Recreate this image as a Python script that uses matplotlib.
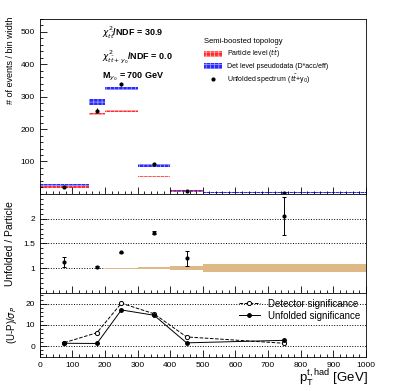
import matplotlib.pyplot as plt
import numpy as np
from matplotlib.patches import Patch
from matplotlib.lines import Line2D
from matplotlib.ticker import MultipleLocator

plt.rcParams['font.family'] = ['Liberation Sans', 'DejaVu Sans']
plt.rcParams['hatch.linewidth'] = 0.6

# binning (GeV)
edges = np.array([0, 150, 200, 300, 400, 500, 1000])
centers = np.array([75, 175, 250, 350, 450, 750])

# top panel: events / bin width
particle = np.array([20, 247, 256, 53, 7, 3])
particle_err = np.array([3, 3, 3, 2, 2, 1])
detector = np.array([27, 283, 325, 87, 10, 4])
detector_err = np.array([5, 9, 6, 4, 3, 2])
unfolded = np.array([21, 256, 338, 91, 10, 4])
unfolded_err = np.array([3, 8, 5, 3, 2, 1])

# middle panel: ratio unfolded / particle
ratio = np.array([1.13, 1.03, 1.32, 1.72, 1.20, 2.05])
ratio_err = np.array([0.10, 0.02, 0.01, 0.04, 0.15, 0.38])
band = np.array([0.005, 0.005, 0.01, 0.02, 0.045, 0.075])

# bottom panel: significance
det_sig = np.array([1.6, 6.3, 20.3, 15.3, 4.3, 1.3])
unf_sig = np.array([1.3, 1.2, 17.1, 14.6, 1.5, 2.7])

widths = np.diff(edges)

fig = plt.figure(figsize=(4.07, 3.91), dpi=100)
ax1 = fig.add_axes([0.098, 0.504, 0.801, 0.448])
ax2 = fig.add_axes([0.098, 0.251, 0.801, 0.253])
ax3 = fig.add_axes([0.098, 0.087, 0.801, 0.164])

# --- top panel
ax1.bar(edges[:-1], 2 * detector_err, bottom=detector - detector_err, width=widths,
        align='edge', color='#2a2aff', hatch='++++', edgecolor='#9a9aff', linewidth=0)
ax1.bar(edges[:-1], 2 * particle_err, bottom=particle - particle_err, width=widths,
        align='edge', color='#ff2a2a', hatch='++++', edgecolor='#ffb0b0', linewidth=0)
ax1.errorbar(centers, unfolded, yerr=unfolded_err, fmt='o', color='black', ms=2,
             elinewidth=0.8, capsize=0)
ax1.set_xlim(0, 1000)
ax1.set_ylim(0, 540)
ax1.set_ylabel('# of events / bin width', fontsize=6.5)
ax1.yaxis.set_label_coords(-0.075, 0.76)
ax1.set_yticks([100, 200, 300, 400, 500])
ax1.yaxis.set_minor_locator(MultipleLocator(20))
ax1.tick_params(labelbottom=False)

ax1.text(0.19, 0.90, r'$\chi^2_{t\bar{t}}$/NDF = 30.9', transform=ax1.transAxes,
         fontsize=6.5, fontweight='bold')
ax1.text(0.19, 0.77, r'$\chi^2_{t\bar{t}+y_0}$/NDF = 0.0', transform=ax1.transAxes,
         fontsize=6.5, fontweight='bold')
ax1.text(0.19, 0.66, r'M$_{y_0}$ = 700 GeV', transform=ax1.transAxes,
         fontsize=6.5, fontweight='bold')

handles = [Patch(facecolor='#ff2a2a', hatch='++++', edgecolor='#ffb0b0', linewidth=0),
           Patch(facecolor='#2a2aff', hatch='++++', edgecolor='#9a9aff', linewidth=0),
           Line2D([], [], marker='o', ms=2, color='black', linestyle='none')]
labels = [r'Particle level ($t\bar{t}$)', 'Det level pseudodata (D*acc/eff)',
          r'Unfolded spectrum ($t\bar{t}$+y$_0$)']
leg = ax1.legend(handles, labels, title='Semi-boosted topology', loc='upper left',
                 bbox_to_anchor=(0.49, 0.92), frameon=False, fontsize=5,
                 title_fontsize=5.5, handlelength=2.5, handleheight=0.9,
                 labelspacing=0.35, borderpad=0.2)
leg._legend_box.align = 'left'

# --- middle panel
ax2.bar(edges[:-1], 2 * band, bottom=1 - band, width=widths, align='edge',
        color='#deb887', linewidth=0)
ax2.errorbar(centers, ratio, yerr=ratio_err, fmt='o', color='black', ms=2,
             elinewidth=0.7, capsize=1.5, capthick=0.7)
for y in [1, 1.5, 2]:
    ax2.axhline(y, color='black', ls=':', lw=0.7, zorder=0)
ax2.set_xlim(0, 1000)
ax2.set_ylim(0.5, 2.5)
ax2.set_yticks([1, 1.5, 2])
ax2.set_yticklabels(['1', '1.5', '2'])
ax2.yaxis.set_minor_locator(MultipleLocator(0.1))
ax2.set_ylabel('Unfolded / Particle', fontsize=7.5)
ax2.yaxis.set_label_coords(-0.075, 0.5)
ax2.tick_params(labelbottom=False)

# --- bottom panel
ax3.plot(centers, det_sig, ls='--', color='black', lw=0.7, marker='o', ms=3,
         mfc='white', mew=0.7, label='Detector significance')
ax3.plot(centers, unf_sig, ls='-', color='black', lw=0.7, marker='o', ms=2.5,
         label='Unfolded significance')
for y in [0, 10, 20]:
    ax3.axhline(y, color='black', ls=':', lw=0.7, zorder=0)
ax3.set_xlim(0, 1000)
ax3.set_ylim(-5.2, 25.2)
ax3.set_yticks([0, 10, 20])
ax3.yaxis.set_minor_locator(MultipleLocator(2))
ax3.set_ylabel(r'(U-P)/$\sigma_P$', fontsize=7)
ax3.yaxis.set_label_coords(-0.065, 0.5)
ax3.legend(loc='upper right', frameon=False, fontsize=7, handlelength=2.2,
           labelspacing=0.2, borderpad=0.1)
fig.text(0.905, 0.004, r'p$_\mathregular{T}^\mathregular{t,had}$ [GeV]', fontsize=9.5,
         ha='right', va='bottom')

for ax in (ax1, ax2, ax3):
    ax.xaxis.set_minor_locator(MultipleLocator(20))
    ax.set_xticks(np.arange(0, 1001, 100))
    ax.tick_params(direction='in', which='both', labelsize=6, top=False, right=False,
                   width=0.6)
    ax.tick_params(which='major', length=5)
    ax.tick_params(which='minor', length=2.5)
    for s in ax.spines.values():
        s.set_linewidth(0.6)

fig.savefig('out.png', dpi=100)
plt.close(fig)
